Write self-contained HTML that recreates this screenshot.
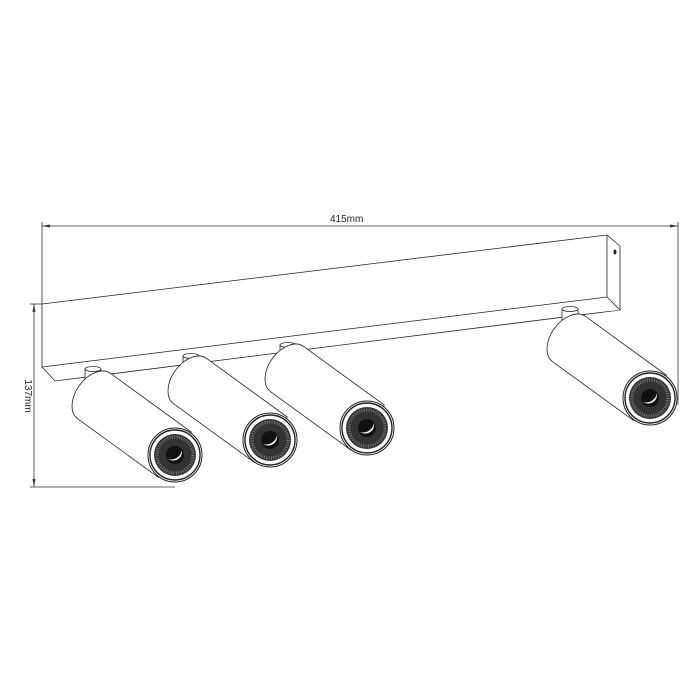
<!DOCTYPE html>
<html><head><style>body{margin:0;background:#fff}svg{display:block}</style></head><body>
<svg width="700" height="700" viewBox="0 0 700 700" xmlns="http://www.w3.org/2000/svg" font-family="Liberation Sans, sans-serif">
<defs>
<g id="spot">
  <path d="M0,-28 L100,-28 L100,28 L0,28 A18,28 0 0 1 0,-28 Z" fill="#fff" stroke="#222" stroke-width="0.8"/>
</g>
<g id="lens">
  <circle r="27" fill="#fff" stroke="#222" stroke-width="1"/>
  <circle r="25" fill="#fff" stroke="#222" stroke-width="1.4"/>
  <circle r="21" fill="#333"/>
  <circle r="18" fill="none" stroke="#888" stroke-width="3" stroke-dasharray="0.8 1.6"/>
  <circle r="9" fill="#111"/>
  <path d="M-7,4 A9,9 0 0 0 7,-5 A11,11 0 0 1 -7,4Z" fill="#fff"/>
</g>
<g id="stem">
  <rect x="-8" y="0" width="16" height="16" fill="#fff" stroke="#222" stroke-width="0.8"/>
  <ellipse cx="0" cy="0" rx="8" ry="2.5" fill="#fff" stroke="#222" stroke-width="0.8"/>
</g>
</defs>
<g stroke="#333" stroke-width="0.8" fill="none">
  <line x1="42" y1="226" x2="678" y2="226"/>
  <line x1="42" y1="222" x2="42" y2="304"/>
  <line x1="678" y1="222" x2="678" y2="405"/>
  <line x1="30" y1="304" x2="42" y2="304"/>
  <line x1="30" y1="487" x2="175" y2="487"/>
  <line x1="34" y1="304" x2="34" y2="487"/>
</g>
<path d="M42,226 l8,-1.5 v3z M678,226 l-8,-1.5 v3z M34,304 l-1.5,8 h3z M34,487 l-1.5,-8 h3z" fill="#333"/>
<text x="330" y="222" font-size="10" fill="#222">415mm</text>
<text transform="translate(25,396) rotate(90)" font-size="10" fill="#222" text-anchor="middle">137mm</text>
<g fill="#fff" stroke="#222" stroke-width="0.8">
  <path d="M42,304 L607,235 L620,246 L620,310 L55,381 L42,367 Z"/>
  <path d="M42,367 L607,297 L620,310"/>
  <line x1="607" y1="235" x2="607" y2="297"/>
</g>
<ellipse cx="615" cy="252" rx="1.5" ry="2.5" fill="#222"/>
<use href="#stem" x="93" y="369"/>
<use href="#stem" x="191" y="356"/>
<use href="#stem" x="288" y="345"/>
<use href="#stem" x="570" y="309"/>
<g transform="translate(94,396) rotate(36)"><use href="#spot"/></g>
<use href="#lens" x="175" y="455"/>
<g transform="translate(190,381) rotate(36)"><use href="#spot"/></g>
<use href="#lens" x="270" y="440"/>
<g transform="translate(287,369) rotate(36)"><use href="#spot"/></g>
<use href="#lens" x="367" y="428"/>
<g transform="translate(569,339) rotate(36)"><use href="#spot"/></g>
<use href="#lens" x="650" y="398"/>
</svg>
</body></html>
